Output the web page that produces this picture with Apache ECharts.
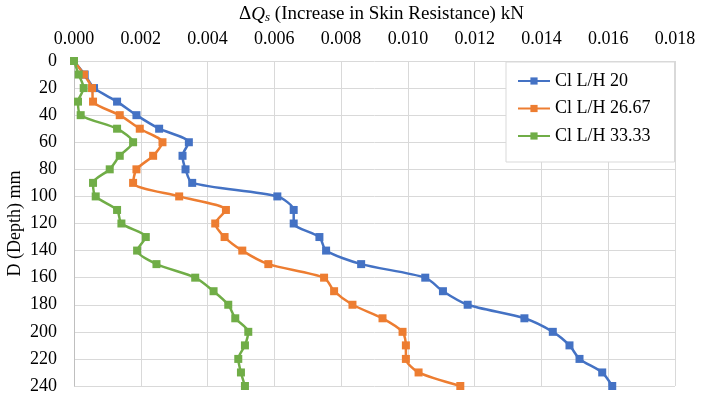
<!DOCTYPE html>
<html>
<head>
<meta charset="utf-8">
<script src="https://cdn.jsdelivr.net/npm/echarts@6/dist/echarts.min.js"></script>
<style>
  html, body { margin: 0; padding: 0; background: #fff; }
  #chart { width: 704px; height: 397px; }
</style>
</head>
<body>
<div id="chart"></div>
<script>
// depth (mm), every 10 mm
const depths = [0, 10, 20, 30, 40, 50, 60, 70, 80, 90, 100, 110, 120, 130, 140, 150, 160, 170, 180, 190, 200, 210, 220, 230, 240];

// increase in skin resistance (kN)
const lh20 = [0, 0.00032, 0.0006, 0.00129, 0.00187, 0.00255, 0.00344, 0.00325, 0.00334, 0.00354, 0.00609, 0.00658, 0.00658, 0.00735, 0.00755, 0.0086, 0.01052, 0.01105, 0.01179, 0.01349, 0.01434, 0.01484, 0.01514, 0.01582, 0.01612];
const lh2667 = [0, 0.0003, 0.00054, 0.00057, 0.00137, 0.00197, 0.00265, 0.00237, 0.00187, 0.00177, 0.00315, 0.00455, 0.00423, 0.00451, 0.00504, 0.00582, 0.00749, 0.00779, 0.00834, 0.00924, 0.00984, 0.00994, 0.00994, 0.01032, 0.01157];
const lh3333 = [0, 0.00014, 0.00029, 0.00012, 0.0002, 0.00129, 0.00177, 0.00137, 0.00107, 0.00057, 0.00065, 0.00129, 0.00142, 0.00215, 0.00189, 0.00247, 0.00363, 0.00418, 0.00462, 0.00483, 0.00522, 0.00512, 0.00492, 0.005, 0.00512];

const seriesNames = ["Cl L/H 20", "Cl L/H 26.67", "Cl L/H 33.33"];
const colors = ["#4472C4", "#ED7D31", "#70AD47"];

const font = "'Liberation Serif', 'Times New Roman', serif";

function pairs(vals) {
  return vals.map((v, i) => [v, depths[i]]);
}

function lineSeries(name, vals) {
  return {
    name: name,
    type: "line",
    data: pairs(vals),
    smooth: 0.25,
    symbol: "rect",
    symbolSize: 8,
    lineStyle: { width: 2.5 },
  };
}

const chart = echarts.init(document.getElementById("chart"));
chart.setOption({
  animation: false,
  color: colors,
  textStyle: { fontFamily: font },
  grid: { left: 74, right: 29, top: 61, bottom: 11, containLabel: false, outerBoundsMode: "none" },
  legend: {
    orient: "vertical",
    left: 506,
    top: 62,
    padding: [10, 24, 17, 11],
    itemGap: 9.5,
    itemWidth: 32,
    itemHeight: 9,
    backgroundColor: "#fff",
    borderColor: "#d9d9d9",
    borderWidth: 1,
    textStyle: { fontFamily: font, fontSize: 18, lineHeight: 18, color: "#000" },
    data: seriesNames,
  },
  xAxis: {
    type: "value",
    position: "top",
    min: 0,
    max: 0.018,
    interval: 0.002,
    name: "{d|Δ}{q|Q}{s|s}{t| (Increase in Skin Resistance) kN}",
    nameLocation: "middle",
    nameGap: 37,
    nameTextStyle: {
      padding: [0, 0, 0, 14],
      rich: {
        d: { fontFamily: font, fontSize: 19, color: "#000" },
        q: { fontFamily: font, fontSize: 19, fontStyle: "italic", color: "#000" },
        s: { fontFamily: font, fontSize: 13, fontStyle: "italic", color: "#000", verticalAlign: "bottom", padding: [6, 0, 0, 0] },
        t: { fontFamily: font, fontSize: 19, color: "#000" },
      },
    },
    axisLine: { show: false },
    axisTick: { show: false },
    axisLabel: {
      margin: 13,
      fontFamily: font,
      fontSize: 18,
      color: "#000",
      formatter: (v) => v.toFixed(3),
    },
    splitLine: { lineStyle: { color: "#d9d9d9", width: 1 } },
  },
  yAxis: {
    type: "value",
    inverse: true,
    min: 0,
    max: 240,
    interval: 20,
    name: "D (Depth) mm",
    nameLocation: "middle",
    nameGap: 50,
    nameMoveOverlap: false,
    nameTextStyle: { fontFamily: font, fontSize: 18, color: "#000" },
    axisLine: { show: true, lineStyle: { color: "#bfbfbf", width: 1 } },
    axisTick: { show: false },
    axisLabel: { margin: 17, fontFamily: font, fontSize: 18, color: "#000" },
    splitLine: { lineStyle: { color: "#d9d9d9", width: 1 } },
  },
  series: [
    lineSeries(seriesNames[0], lh20),
    lineSeries(seriesNames[1], lh2667),
    lineSeries(seriesNames[2], lh3333),
  ],
});
</script>
</body>
</html>
